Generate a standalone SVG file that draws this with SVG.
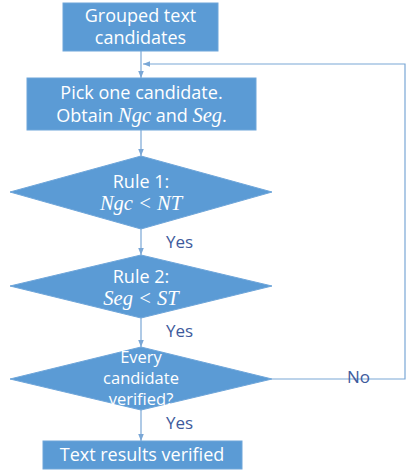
<svg xmlns="http://www.w3.org/2000/svg" width="407" height="470" viewBox="0 0 407 470">
<style>
.n{fill:#5B9BD5;stroke:#6FA6DA;stroke-width:1}
.t{font-family:"Open Sans","Noto Sans",sans-serif;font-size:18px;font-weight:500;fill:#fff;text-anchor:middle}
.s{font-size:16.5px}
.m{font-family:"Liberation Serif","DejaVu Serif",serif;font-style:italic;font-size:20.5px}
.c{fill:none;stroke:#7AA7D6;stroke-width:1.2}
.l{font-family:"Open Sans","Noto Sans",sans-serif;font-size:17px;font-weight:500;fill:#3E5A9C}
</style>
<defs>
<marker id="a" viewBox="0 0 10 10" refX="10" refY="5" markerWidth="7" markerHeight="7" orient="auto-start-reverse" markerUnits="userSpaceOnUse"><path d="M0,1 L10,5 L0,9 z" fill="#7AA7D6"/></marker>
</defs>
<rect width="407" height="470" fill="#fff"/>
<g id="connectors">
<line class="c" x1="141" y1="51" x2="141" y2="78" marker-end="url(#a)"/>
<polyline class="c" points="272,379 405,379 405,64 143,64" marker-end="url(#a)"/>
<line class="c" x1="141" y1="130" x2="141" y2="156" marker-end="url(#a)"/>
<line class="c" x1="141" y1="229" x2="141" y2="255" marker-end="url(#a)"/>
<line class="c" x1="141" y1="318" x2="141" y2="347" marker-end="url(#a)"/>
<line class="c" x1="141" y1="410" x2="141" y2="441" marker-end="url(#a)"/>
<text class="l" x="166" y="248">Yes</text>
<text class="l" x="166" y="337">Yes</text>
<text class="l" x="166" y="429">Yes</text>
<text class="l" x="347" y="383">No</text>
</g>
<g id="grouped">
<rect class="n" x="63" y="3" width="155" height="48"/>
<text class="t" x="140.5" y="22">Grouped text</text>
<text class="t" x="140.5" y="44">candidates</text>
</g>
<g id="pick">
<rect class="n" x="27" y="78" width="229" height="52"/>
<text class="t" x="141.5" y="99">Pick one candidate.</text>
<text class="t" x="141.5" y="122">Obtain <tspan class="m">Ngc</tspan> and <tspan class="m">Seg</tspan>.</text>
</g>
<g id="rule1">
<polygon class="n" points="141,156 272,192 141,229 10,192"/>
<text class="t" x="141" y="188">Rule 1:</text>
<text class="t m" x="141" y="210">Ngc &lt; NT</text>
</g>
<g id="rule2">
<polygon class="n" points="141,255 272,286 141,318 10,286"/>
<text class="t" x="141" y="283">Rule 2:</text>
<text class="t m" x="141" y="305">Seg  &lt; ST</text>
</g>
<g id="every">
<polygon class="n" points="141,347 272,379 141,410 10,379"/>
<text class="t s" x="141" y="363">Every</text>
<text class="t s" x="141" y="384">candidate</text>
<text class="t s" x="141" y="405">verified?</text>
</g>
<g id="results">
<rect class="n" x="43" y="441" width="199" height="28"/>
<text class="t" x="142" y="461">Text results verified</text>
</g>
</svg>
